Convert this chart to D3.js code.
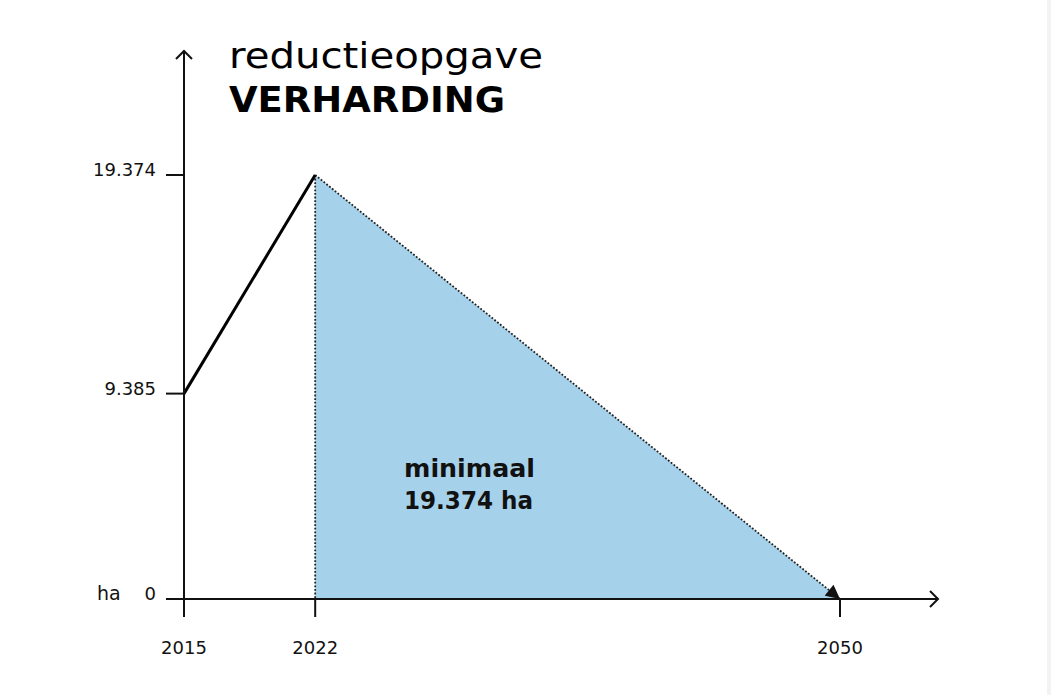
<!DOCTYPE html>
<html>
<head>
<meta charset="utf-8">
<script src="https://cdn.jsdelivr.net/npm/d3@7"></script>
<style>
  body { margin: 0; background: #fff; }
  svg { display: block; font-family: "DejaVu Sans", sans-serif; }
</style>
</head>
<body>
<svg id="chart" width="1051" height="695"></svg>
<script>
// data
const years = [2015, 2022, 2050];
const history = [{ year: 2015, value: 9385 }, { year: 2022, value: 19374 }];
const target = [{ year: 2022, value: 19374 }, { year: 2050, value: 0 }];
const yTicks = [0, 9385, 19374];
const yTickLabels = ['0', '9.385', '19.374'];

const svg = d3.select('#chart');

// light strip on the right edge
svg.append('rect').attr('x', 1047).attr('y', 0).attr('width', 4).attr('height', 695).attr('fill', '#f3f3f3');

const x = d3.scaleLinear().domain([2015, 2050]).range([184, 840]);
const y = d3.scaleLinear().domain([0, 19374]).range([599, 175]);

const defs = svg.append('defs');
defs.append('marker')
    .attr('id', 'tri')
    .attr('viewBox', '0 0 10 10')
    .attr('refX', 10).attr('refY', 5)
    .attr('markerWidth', 15).attr('markerHeight', 14)
    .attr('markerUnits', 'userSpaceOnUse')
    .attr('orient', 'auto')
  .append('path')
    .attr('d', 'M0,0 L10,5 L0,10 Z')
    .attr('fill', '#111');

// reduction area
const area = d3.area()
    .x(d => x(d.year))
    .y0(y(0))
    .y1(d => y(d.value));

svg.append('path')
    .datum(target)
    .attr('d', area)
    .attr('fill', '#a6d1ea');

// dotted outline: vertical edge and diagonal
svg.append('line')
    .attr('x1', x(2022)).attr('x2', x(2022))
    .attr('y1', y(19374)).attr('y2', y(0))
    .attr('stroke', '#222').attr('stroke-width', 1.8)
    .attr('stroke-dasharray', '1.8,1.8');

const line = d3.line().x(d => x(d.year)).y(d => y(d.value));

svg.append('path')
    .datum(target)
    .attr('d', line)
    .attr('fill', 'none')
    .attr('stroke', '#222').attr('stroke-width', 1.8)
    .attr('stroke-dasharray', '1.8,1.8')
    .attr('marker-end', 'url(#tri)');

// history line
svg.append('path')
    .datum(history)
    .attr('d', line)
    .attr('fill', 'none')
    .attr('stroke', '#000')
    .attr('stroke-width', 3);

// axes
const axisG = svg.append('g').attr('stroke', '#111').attr('stroke-width', 2).attr('fill', 'none');
axisG.append('line').attr('x1', x(2015)).attr('x2', x(2015)).attr('y1', 617).attr('y2', 51);
axisG.append('path').attr('d', `M${x(2015) - 8},59 L${x(2015)},51 L${x(2015) + 8},59`);
axisG.append('line').attr('x1', 166).attr('x2', 938).attr('y1', y(0)).attr('y2', y(0));
axisG.append('path').attr('d', `M930,591 L938,${y(0)} L930,607`);

// x ticks
axisG.selectAll('.xt')
  .data(years)
  .join('line')
    .attr('x1', d => x(d)).attr('x2', d => x(d))
    .attr('y1', y(0)).attr('y2', 617);

// y ticks
axisG.selectAll('.yt')
  .data(yTicks.filter(d => d > 0))
  .join('line')
    .attr('x1', 166).attr('x2', x(2015))
    .attr('y1', d => y(d)).attr('y2', d => y(d));

// tick labels
svg.selectAll('.xl')
  .data(years)
  .join('text')
    .attr('x', d => x(d))
    .attr('y', 654)
    .attr('text-anchor', 'middle')
    .attr('font-size', 18)
    .attr('fill', '#111')
    .text(d => d);

svg.selectAll('.yl')
  .data(yTicks)
  .join('text')
    .attr('x', 156)
    .attr('y', d => y(d) + 1)
    .attr('text-anchor', 'end')
    .attr('font-size', 18)
    .attr('fill', '#111')
    .text((d, i) => yTickLabels[i]);

svg.append('text')
    .attr('x', 97).attr('y', y(0) + 1)
    .attr('font-size', 19).attr('fill', '#111')
    .text('ha');

// title
svg.append('text')
    .attr('x', 229).attr('y', 68)
    .attr('font-size', 36)
    .attr('fill', '#000')
    .attr('textLength', 314)
    .attr('lengthAdjust', 'spacingAndGlyphs')
    .text('reductieopgave');

svg.append('text')
    .attr('x', 229).attr('y', 112)
    .attr('font-size', 35).attr('font-weight', 'bold')
    .attr('fill', '#000')
    .attr('textLength', 276)
    .attr('lengthAdjust', 'spacingAndGlyphs')
    .text('VERHARDING');

// annotation
svg.append('text')
    .attr('x', 404).attr('y', 477)
    .attr('font-size', 24).attr('font-weight', 'bold')
    .attr('fill', '#111')
    .attr('textLength', 131)
    .attr('lengthAdjust', 'spacingAndGlyphs')
    .text('minimaal');

svg.append('text')
    .attr('x', 404).attr('y', 509)
    .attr('font-size', 24).attr('font-weight', 'bold')
    .attr('fill', '#111')
    .attr('textLength', 129)
    .attr('lengthAdjust', 'spacingAndGlyphs')
    .text('19.374 ha');
</script>
</body>
</html>
